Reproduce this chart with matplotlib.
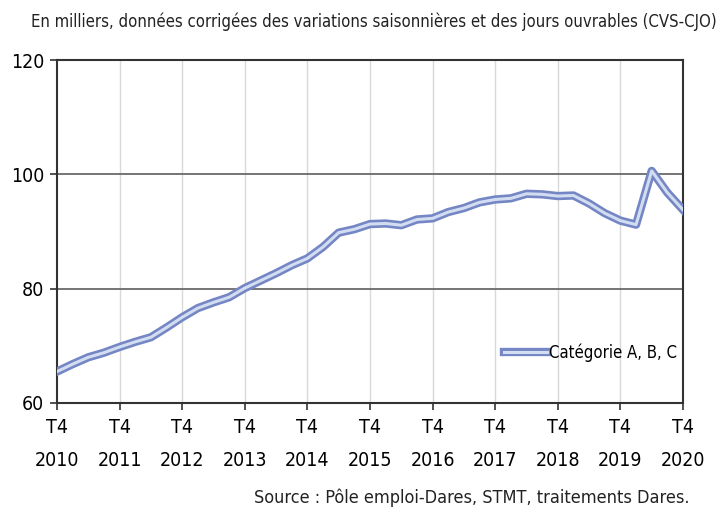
import matplotlib
matplotlib.use("Agg")
import matplotlib.pyplot as plt
import matplotlib.patheffects as pe
import numpy as np

plt.rcParams['font.family'] = ['DejaVu Sans']
plt.rcParams['font.stretch'] = 'condensed'

years = list(range(2010, 2021))
tick_labels = [f"T4\n{y}" for y in years]
values = [65.5, 66.8, 68.0, 68.8, 69.8, 70.7, 71.5, 73.2, 75.0, 76.6, 77.6, 78.5,
          80.1, 81.4, 82.7, 84.1, 85.3, 87.3, 89.8, 90.4, 91.3, 91.4, 91.1, 92.1,
          92.3, 93.4, 94.1, 95.1, 95.6, 95.8, 96.6, 96.5, 96.2, 96.3, 94.9, 93.2,
          91.9, 91.2, 100.6, 96.8, 93.8]
series_label = "Catégorie A, B, C"
title = "En milliers, données corrigées des variations saisonnières et des jours ouvrables (CVS-CJO)"
source = "Source : Pôle emploi-Dares, STMT, traitements Dares."

fig = plt.figure(figsize=(7.24, 5.16), dpi=100)
ax = fig.add_axes([57/724, 1-403/516, (683-57)/724, (403-60)/516])

x = np.arange(len(values))
ax.plot(x, values, color='#d3ddf2', lw=2.2, label=series_label,
        path_effects=[pe.Stroke(linewidth=6, foreground='#7487c4'), pe.Normal()],
        zorder=3)

ax.set_xlim(0, len(values) - 1)
ax.set_ylim(60, 120)
ax.set_xticks(np.arange(0, len(values), 4))
ax.set_xticklabels(tick_labels, fontsize=14, linespacing=1.9)
ax.set_yticks([60, 80, 100, 120])
ax.tick_params(axis='y', labelsize=14, length=5, width=1.2, color='#333333', pad=4)
ax.tick_params(axis='x', length=5, width=1.2, color='#333333', pad=6)

for xv in np.arange(4, len(values) - 1, 4):
    ax.axvline(xv, color='#d9d9d9', lw=1.0, zorder=1)
for yv in [80, 100]:
    ax.axhline(yv, color='#6a6a6a', lw=1.3, zorder=1)

for s in ['left', 'bottom', 'right', 'top']:
    ax.spines[s].set_color('#333333')
    ax.spines[s].set_linewidth(1.5)

leg = ax.legend(loc='center left', bbox_to_anchor=(0.700, 0.146), frameon=False,
                fontsize=12, handlelength=2.6, handletextpad=0.15, borderpad=0)

fig.text(0.043, 0.958, title, fontsize=12, ha='left', va='center', color='#222222')
fig.text(0.953, 0.035, source, fontsize=13, ha='right', va='center', color='#222222')

fig.savefig("out.png", dpi=100)
